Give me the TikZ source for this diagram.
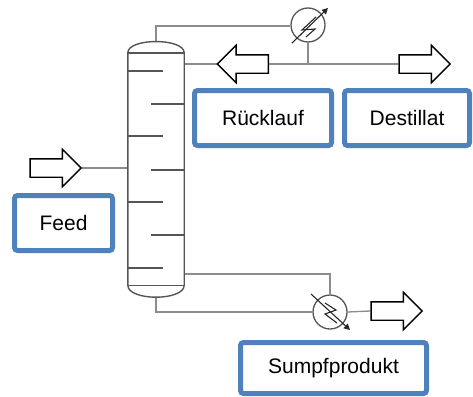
\documentclass[tikz,border=0pt]{standalone}
\usepackage{fontspec}
\setmainfont{Liberation Sans}
\usepackage{tikz}
\usetikzlibrary{arrows.meta,positioning,shapes.arrows,backgrounds}
\definecolor{boxblue}{RGB}{79,129,189}
\definecolor{pipegray}{RGB}{140,140,140}
\definecolor{colgray}{RGB}{85,85,85}

\begin{document}
\begin{tikzpicture}[x=1pt,y=-1pt,
 label/.style={draw=boxblue,line width=5pt,rounded corners=3pt,fill=white,inner sep=0pt,font=\fontsize{21}{25}\selectfont},
 pfeil/.style={single arrow,draw=black,fill=white,line width=1.4pt,inner xsep=0pt,inner ysep=8.5pt,minimum height=51pt,single arrow head extend=9.5pt},
 pipe/.style={draw=pipegray,line width=1.3pt},
 colline/.style={draw=colgray,line width=1.4pt},
 sym/.style={draw=black!85,line width=1.1pt},
 wt/.style={circle,draw=colgray,line width=1.3pt,minimum size=34pt,inner sep=0pt}]
\useasboundingbox (0,0) rectangle (473,396);
% Kolonne
\node[minimum width=56pt,minimum height=232pt,inner sep=0pt] (Kol) at (156,169) {};
\coordinate (KopfK) at (156,42);
\coordinate (SumpfK) at (156,297);
\coordinate (Abzug) at (184,274);
\draw[colline] (Kol.south west) -- (Kol.north west) .. controls +(0,-15) and +(0,-15) .. (Kol.north east) -- (Kol.south east) .. controls +(0,16) and +(0,16) .. (Kol.south west);
\draw[colline] (Kol.north west) -- (Kol.north east);
\draw[colline] (Kol.south west) -- (Kol.south east);
\foreach \y in {71,136,202,268} \draw[colline] (128,\y) -- (163,\y);
\foreach \y in {104,170,235} \draw[colline] (151,\y) -- (184,\y);
% Waermetauscher
\node[wt] (Kond) at (308,25) {};
\node[wt] (Verd) at (330,312) {};
\begin{scope}[shift={(Kond.center)}]
\draw[sym,-{Triangle[length=6pt,width=6pt]}] (-16,18) -- (20,-17);
\draw[sym] (8,-8) -- (-6,5) -- (7,4) -- (-2,12);
\end{scope}
\begin{scope}[shift={(Verd.center)}]
\draw[sym,-{Triangle[length=6pt,width=6pt]}] (-19,-18) -- (20,18);
\draw[sym] (-5,-9) -- (6,-2) -- (-5,2) -- (7,11);
\end{scope}
% Pfeile
\node[pfeil] (AF) at (51,168) {};
\node[pfeil,shape border rotate=180] (AR) at (247.5,64) {};
\node[pfeil] (AD) at (420,64) {};
\node[pfeil] (AS) at (392,311) {};
% Leitungen
\begin{scope}[on background layer]
\draw[pipe] (AF.tip) -- (AF.tip -| Kol.west);
\draw[pipe] (KopfK) |- ([yshift=-1pt]Kond.west);
\draw[pipe] (Kond.south) -- (Kond.south |- AR.center);
\draw[pipe] (AR.center -| Kol.east) -- (AD.tail);
\draw[pipe] (Abzug) -| (Verd.north);
\draw[pipe] (SumpfK) |- (Verd.west);
\draw[pipe] (Verd.east) -- (AS.tail);
\end{scope}
% Beschriftungen
\node[label,minimum width=98pt,minimum height=55pt] (Feed) at (63.5,223) {Feed};
\node[label,minimum width=137pt,minimum height=55pt] (Rueck) at (263,118) {Rücklauf};
\node[label,minimum width=125pt,minimum height=55pt] (Dest) at (407,118) {Destillat};
\node[label,minimum width=186pt,minimum height=51pt] (Sumpf) at (333.5,368) {Sumpfprodukt};
\end{tikzpicture}
\end{document}
